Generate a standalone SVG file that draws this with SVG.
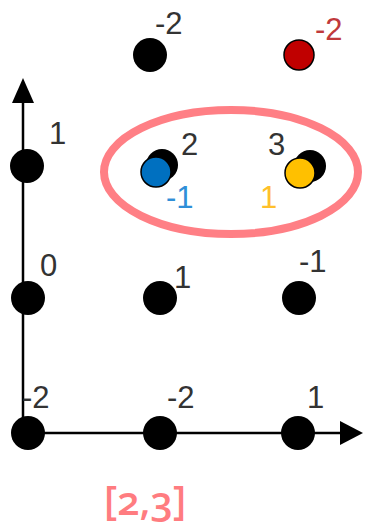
<svg xmlns="http://www.w3.org/2000/svg" width="365" height="528" viewBox="0 0 365 528">
<style>
.t{font-family:"Liberation Sans",Arial,sans-serif;font-size:31px;fill:#333}
.dot{fill:#000}
.ax{stroke:#000;stroke-width:2.5;fill:none}
</style>
<rect width="365" height="528" fill="#fff"/>
<g id="connectors">
<line class="ax" x1="23" y1="433" x2="23" y2="100"/>
<polygon points="23,78 12,103 34,103" fill="#000"/>
<line class="ax" x1="23" y1="433" x2="342" y2="433"/>
<polygon points="363,433 340,421 340,445" fill="#000"/>
</g>
<g id="ellipse"><ellipse cx="231" cy="172" rx="127" ry="62" fill="none" stroke="#ff7f85" stroke-width="8"/></g>
<g id="n-top-mid"><circle class="dot" cx="150" cy="55" r="17"/><text class="t" x="155" y="34">-2</text></g>
<g id="n-top-right"><circle cx="299" cy="55" r="15" fill="#c00000" stroke="#000" stroke-width="1.5"/><text class="t" x="315" y="40" style="fill:#c0393b">-2</text></g>
<g id="n-1-left"><circle class="dot" cx="27" cy="166" r="17"/><text class="t" x="49" y="144">1</text></g>
<g id="n-1-mid"><circle class="dot" cx="162" cy="165" r="16"/><circle cx="156" cy="172" r="15" fill="#0070c0" stroke="#000" stroke-width="1.5"/><text class="t" x="181" y="155">2</text><text class="t" x="166" y="208" style="fill:#2f8fd8">-1</text></g>
<g id="n-1-right"><circle class="dot" cx="310" cy="166" r="16"/><circle cx="300" cy="173" r="15" fill="#ffc000" stroke="#000" stroke-width="1.5"/><text class="t" x="268" y="155">3</text><text class="t" x="260" y="208" style="fill:#ffc02a">1</text></g>
<g id="n-0-left"><circle class="dot" cx="28" cy="298" r="17"/><text class="t" x="40" y="276">0</text></g>
<g id="n-0-mid"><circle class="dot" cx="160" cy="298" r="17"/><text class="t" x="174" y="288">1</text></g>
<g id="n-0-right"><circle class="dot" cx="299" cy="298" r="17"/><text class="t" x="299" y="272">-1</text></g>
<g id="n-b-left"><circle class="dot" cx="28" cy="433" r="17"/><text class="t" x="22" y="408">-2</text></g>
<g id="n-b-mid"><circle class="dot" cx="160" cy="433" r="17"/><text class="t" x="167" y="408">-2</text></g>
<g id="n-b-right"><circle class="dot" cx="298" cy="433" r="17"/><text class="t" x="307" y="408">1</text></g>
<text x="104" y="515" style="font-family:'Open Sans','Noto Sans',sans-serif;font-size:40px;font-weight:600;fill:#ff7c80;font-variant-numeric:oldstyle-nums">[2,3]</text>
</svg>
